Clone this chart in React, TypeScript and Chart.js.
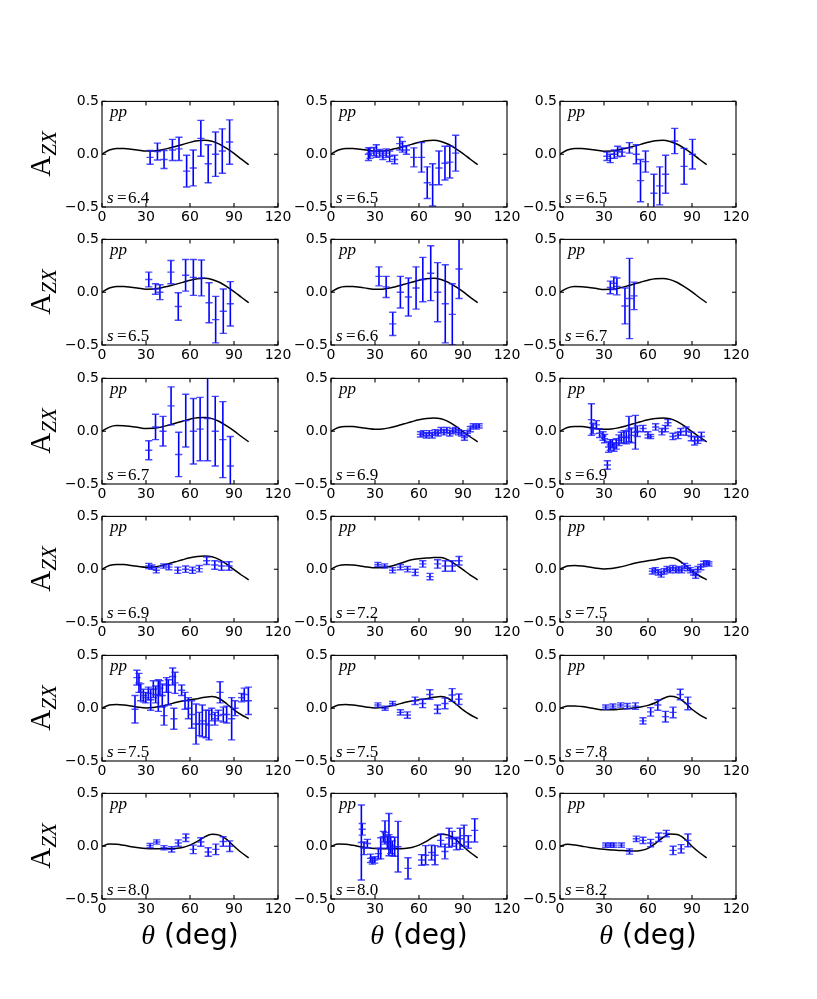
import { useEffect, useRef } from "react";
import { Chart, registerables } from "chart.js";

Chart.register(...registerables);

// theory curves, sampled every 5 deg
const thetaGrid = [0, 5, 10, 15, 20, 25, 30, 35, 40, 45, 50, 55, 60, 65, 70, 75, 80, 85, 90, 95, 100];
const curve64 = [0, 0.04, 0.055, 0.055, 0.048, 0.038, 0.03, 0.03, 0.04, 0.055, 0.073, 0.092, 0.112, 0.127, 0.132, 0.122, 0.095, 0.055, 0.008, -0.047, -0.1];
const curve65 = [0, 0.04, 0.055, 0.055, 0.047, 0.037, 0.029, 0.03, 0.04, 0.056, 0.074, 0.093, 0.113, 0.128, 0.132, 0.121, 0.094, 0.053, 0.006, -0.048, -0.1];
const curve66 = [0, 0.04, 0.054, 0.054, 0.046, 0.036, 0.028, 0.029, 0.039, 0.056, 0.075, 0.094, 0.114, 0.128, 0.131, 0.12, 0.093, 0.052, 0.005, -0.049, -0.1];
const curve67 = [0, 0.039, 0.053, 0.052, 0.044, 0.034, 0.026, 0.027, 0.038, 0.055, 0.075, 0.095, 0.114, 0.128, 0.13, 0.119, 0.092, 0.05, 0.003, -0.05, -0.1];
const curve69 = [0, 0.035, 0.045, 0.044, 0.036, 0.026, 0.019, 0.021, 0.033, 0.05, 0.07, 0.09, 0.108, 0.12, 0.125, 0.117, 0.09, 0.047, -0.004, -0.055, -0.1];
const curve72 = [0, 0.034, 0.043, 0.04, 0.031, 0.02, 0.013, 0.015, 0.026, 0.045, 0.068, 0.09, 0.1, 0.105, 0.11, 0.11, 0.087, 0.045, -0.005, -0.055, -0.1];
const curve75 = [0, 0.03, 0.035, 0.03, 0.02, 0.009, 0.003, 0.007, 0.018, 0.034, 0.053, 0.068, 0.08, 0.09, 0.103, 0.11, 0.092, 0.042, -0.015, -0.062, -0.1];
const curve78 = [0, 0.02, 0.022, 0.015, 0.005, -0.008, -0.015, -0.015, -0.011, -0.005, 0.003, 0.012, 0.027, 0.052, 0.09, 0.112, 0.1, 0.055, -0.01, -0.06, -0.1];
const curve80 = [0, 0.02, 0.018, 0.008, -0.005, -0.015, -0.022, -0.025, -0.025, -0.025, -0.022, -0.012, 0.01, 0.045, 0.088, 0.112, 0.105, 0.065, 0, -0.06, -0.11];
const curve82 = [0, 0.018, 0.012, 0, -0.012, -0.022, -0.03, -0.035, -0.04, -0.042, -0.045, -0.04, -0.02, 0.025, 0.08, 0.115, 0.11, 0.07, 0, -0.06, -0.11];

// measured points: [theta, A_ZX, error]
const r1c1 = [[32.8, -0.03, 0.065], [37.8, 0.025, 0.08], [42.3, -0.05, 0.085], [48, 0.04, 0.1], [52.5, 0.05, 0.11], [57.7, -0.16, 0.15], [62.2, -0.13, 0.17], [67.4, 0.15, 0.17], [72.4, -0.09, 0.18], [77.4, 0, 0.21], [82, 0.03, 0.21], [87, 0.115, 0.21]];
const r1c2 = [[25.5, 0, 0.06], [26.5, 0.01, 0.05], [29.3, 0.025, 0.04], [30.9, 0.03, 0.06], [33.1, 0.01, 0.035], [35.4, -0.01, 0.04], [37.7, 0.01, 0.04], [40, -0.02, 0.05], [43.4, -0.05, 0.04], [46.9, 0.1, 0.06], [48.7, 0.07, 0.05], [51.4, 0.04, 0.04], [56.5, -0.03, 0.09], [61.7, -0.03, 0.14], [65.6, -0.27, 0.15], [69.3, -0.29, 0.2], [73.6, -0.13, 0.16], [77.7, -0.085, 0.16], [81, -0.075, 0.15], [85, 0.01, 0.17]];
const r1c3 = [[32, -0.02, 0.04], [34.3, -0.04, 0.04], [37, 0, 0.04], [39.3, 0.025, 0.05], [42.3, 0.02, 0.04], [47.3, 0.06, 0.05], [52, 0, 0.09], [54.9, -0.25, 0.2], [58.3, -0.07, 0.1], [64, -0.37, 0.18], [68, -0.3, 0.18], [72, -0.19, 0.18], [78.2, 0.125, 0.12], [84.6, -0.115, 0.17], [90.3, 0, 0.14]];
const r2c1 = [[31.9, 0.12, 0.07], [36.5, 0.03, 0.05], [39.5, 0, 0.07], [47, 0.19, 0.11], [52, -0.135, 0.13], [57, 0.16, 0.15], [62.3, 0.14, 0.17], [67.8, 0.135, 0.17], [73, -0.1, 0.19], [77.5, -0.26, 0.22], [82.7, -0.18, 0.21], [87.5, -0.11, 0.21]];
const r2c2 = [[32.7, 0.15, 0.09], [37.6, 0.05, 0.1], [42.1, -0.3, 0.11], [47.3, 0, 0.15], [52.8, -0.045, 0.18], [58, 0.04, 0.2], [62.6, 0.12, 0.21], [68, 0.18, 0.26], [72.7, 0, 0.28], [77.9, -0.11, 0.37], [82.7, -0.21, 0.29], [87.3, 0.22, 0.28]];
const r2c3 = [[34.3, 0.045, 0.06], [36.7, 0.085, 0.06], [38.8, 0.055, 0.08], [44.3, -0.13, 0.17], [47.4, -0.06, 0.38], [50.5, -0.035, 0.13]];
const r3c1 = [[31.9, -0.18, 0.09], [36.5, 0.04, 0.12], [41.6, 0, 0.14], [47.1, 0.24, 0.18], [52.3, -0.22, 0.21], [57.1, 0.1, 0.25], [62.3, 0, 0.31], [66.9, 0.02, 0.3], [72, 0.12, 0.4], [77.2, 0, 0.33], [82.4, -0.08, 0.36], [87.5, -0.33, 0.28]];
const r3c2 = [[61, -0.03, 0.025], [63, -0.02, 0.025], [65, -0.04, 0.025], [67, -0.02, 0.025], [69, -0.04, 0.025], [71, -0.01, 0.025], [73, -0.02, 0.025], [75, 0.01, 0.025], [77, -0.01, 0.025], [79, 0.01, 0.025], [81, -0.02, 0.025], [83, 0, 0.025], [85, 0.01, 0.025], [87, -0.01, 0.025], [89, -0.02, 0.025], [91, -0.06, 0.025], [93, -0.02, 0.025], [95, 0.02, 0.025], [97, 0.05, 0.02], [99, 0.04, 0.02], [101, 0.05, 0.02]];
const r3c3 = [[21.4, 0.11, 0.15], [22.5, 0.025, 0.05], [24.8, 0.06, 0.04], [27, -0.02, 0.04], [29.3, -0.045, 0.04], [30.4, -0.07, 0.04], [32.3, -0.32, 0.04], [33.2, -0.15, 0.05], [34.3, -0.13, 0.05], [35.7, -0.12, 0.04], [36.8, -0.15, 0.04], [38.4, -0.12, 0.05], [40.2, -0.085, 0.05], [41.8, -0.06, 0.05], [43.6, -0.055, 0.06], [45.2, -0.06, 0.06], [47, 0.02, 0.12], [48.6, -0.04, 0.07], [51.4, -0.01, 0.16], [52.7, 0, 0.05], [56.6, 0.025, 0.03], [60, -0.035, 0.03], [61.8, -0.05, 0.02], [65.2, 0.04, 0.03], [69.5, -0.005, 0.03], [71.8, 0.025, 0.03], [73.6, 0.08, 0.03], [77, -0.05, 0.03], [80.5, -0.04, 0.03], [82.3, -0.005, 0.03], [86, 0, 0.04], [89.5, -0.05, 0.04], [91.8, -0.09, 0.04], [94, -0.085, 0.03], [96.4, -0.05, 0.04]];
const r4c1 = [[31.9, 0.03, 0.025], [34, 0.02, 0.02], [37, -0.01, 0.025], [42, 0.03, 0.02], [45.6, 0.02, 0.025], [51.7, -0.01, 0.03], [57, 0, 0.03], [61.7, -0.01, 0.03], [66.3, 0.005, 0.03], [71.4, 0.08, 0.035], [76.9, 0.04, 0.04], [81.5, 0.03, 0.04], [86.6, 0.03, 0.04]];
const r4c2 = [[32, 0.045, 0.02], [36.6, 0.03, 0.02], [42, -0.01, 0.025], [47.3, 0.02, 0.025], [52.2, 0, 0.025], [57.4, -0.03, 0.03], [62.6, 0.05, 0.03], [67.5, -0.07, 0.03], [72.7, 0.05, 0.04], [77.9, 0.03, 0.05], [82.7, 0.03, 0.05], [87.3, 0.08, 0.04]];
const r4c3 = [[63, -0.02, 0.025], [65, -0.01, 0.025], [67, -0.03, 0.025], [69, -0.05, 0.025], [71, -0.02, 0.025], [73, 0, 0.025], [75, -0.01, 0.025], [77, 0.01, 0.025], [79, -0.01, 0.025], [81, 0, 0.025], [83, -0.01, 0.025], [85, 0.03, 0.025], [87, 0.01, 0.025], [89, -0.01, 0.025], [91, -0.03, 0.025], [92.5, -0.06, 0.025], [94, 0, 0.025], [96, 0.02, 0.025], [98, 0.05, 0.025], [100, 0.06, 0.02], [101.5, 0.05, 0.02]];
const r5c1 = [[22.5, -0.01, 0.13], [23.8, 0.29, 0.07], [25.2, 0.24, 0.09], [26.4, 0.15, 0.08], [28.2, 0.12, 0.06], [29.8, 0.1, 0.05], [31.6, 0.14, 0.06], [33.2, 0.08, 0.1], [35, 0.18, 0.08], [36.6, 0.13, 0.08], [38.4, 0.12, 0.15], [39.5, 0.19, 0.07], [41.1, 0.12, 0.11], [42.3, -0.07, 0.09], [44, 0.22, 0.07], [45.2, 0.15, 0.12], [48.2, 0.3, 0.08], [49.8, 0.24, 0.1], [49, -0.1, 0.1], [54.3, 0.17, 0.05], [56.6, 0.07, 0.08], [58.9, 0, 0.1], [61.2, -0.06, 0.13], [64.1, -0.15, 0.19], [66.4, -0.15, 0.11], [68.4, -0.12, 0.15], [70.9, -0.15, 0.13], [72.9, -0.16, 0.14], [74.8, -0.06, 0.06], [77, -0.1, 0.06], [79.3, -0.07, 0.05], [80.5, 0.15, 0.1], [82.7, -0.06, 0.07], [85, -0.06, 0.08], [88.4, -0.1, 0.2], [90.7, 0, 0.07], [95.2, 0.1, 0.04], [97, 0.13, 0.06], [99.8, 0.07, 0.13]];
const r5c2 = [[32, 0.03, 0.02], [36.9, 0, 0.02], [42, 0.045, 0.02], [47.3, -0.04, 0.025], [52.1, -0.065, 0.03], [57.3, 0.07, 0.035], [62.5, 0.045, 0.04], [67.4, 0.13, 0.045], [72.6, -0.01, 0.04], [77.7, 0.045, 0.05], [82.6, 0.125, 0.06], [87.2, 0.085, 0.05]];
const r5c3 = [[31.2, 0.01, 0.02], [36.1, 0.02, 0.02], [41.3, 0.03, 0.02], [45.9, 0.02, 0.025], [51.4, 0.02, 0.03], [56.6, -0.12, 0.03], [61.8, -0.035, 0.04], [66.7, 0.03, 0.05], [71.9, -0.08, 0.05], [77.1, -0.04, 0.05], [82, 0.13, 0.05], [87.2, 0.045, 0.06]];
const r6c1 = [[32.8, 0.005, 0.02], [37.3, 0.04, 0.02], [42.3, -0.015, 0.02], [47.5, -0.03, 0.025], [52, 0.03, 0.03], [57.2, 0.08, 0.035], [62.2, -0.03, 0.04], [67.4, 0.04, 0.04], [72.4, -0.055, 0.04], [77.6, -0.03, 0.05], [82.6, 0.045, 0.045], [87.1, 0, 0.05]];
const r6c2 = [[20.7, 0.035, 0.355], [21.3, 0.16, 0.055], [22.5, -0.02, 0.06], [24.8, 0.025, 0.04], [27, -0.115, 0.04], [28.2, -0.14, 0.03], [29.8, -0.13, 0.03], [32.3, -0.07, 0.05], [33.9, -0.02, 0.1], [35.7, 0.09, 0.05], [36.8, 0.13, 0.11], [38.4, 0.04, 0.06], [39.5, 0.11, 0.2], [40.7, 0.01, 0.08], [41.8, -0.02, 0.07], [43.4, -0.005, 0.09], [45.7, -0.005, 0.24], [52.5, -0.21, 0.1], [61.8, -0.13, 0.05], [64.5, -0.085, 0.09], [68.6, -0.06, 0.07], [70.9, -0.085, 0.09], [74.8, 0.055, 0.06], [77.7, -0.05, 0.07], [80.5, 0.08, 0.09], [82.7, 0.07, 0.07], [85.5, 0.025, 0.06], [88, 0.07, 0.1], [90.7, 0.1, 0.1], [93.6, 0.04, 0.06], [98, 0.15, 0.11]];
const r6c3 = [[31.2, 0.01, 0.02], [34.3, 0.01, 0.02], [36.7, 0.01, 0.02], [41.9, 0.01, 0.02], [47.4, -0.05, 0.025], [52, 0.07, 0.025], [56.6, 0.055, 0.03], [61.8, 0.03, 0.035], [67.3, 0.085, 0.04], [72.5, 0.12, 0.03], [77.1, -0.04, 0.04], [82.6, -0.025, 0.04], [87.2, 0.055, 0.06]];

const sLabels = ["6.4", "6.5", "6.5", "6.5", "6.6", "6.7", "6.7", "6.9", "6.9", "6.9", "7.2", "7.5", "7.5", "7.5", "7.8", "8.0", "8.0", "8.2"];
const panelCurves = [curve64, curve65, curve65, curve65, curve66, curve67, curve67, curve69, curve69, curve69, curve72, curve75, curve75, curve75, curve78, curve80, curve80, curve82];
const panelPoints = [r1c1, r1c2, r1c3, r2c1, r2c2, r2c3, r3c1, r3c2, r3c3, r4c1, r4c2, r4c3, r5c1, r5c2, r5c3, r6c1, r6c2, r6c3];

const xTicks = [0, 30, 60, 90, 120];
const yTicks = [-0.5, 0, 0.5];

// figure layout (px)
const AX_W = 176;
const AX_H = 107;
const COL_X = [102, 331, 560];
const ROW_Y = [100, 238, 377, 515, 654, 792];
const Y_AXIS_W = 50;
const PAD_T = 10;
const PAD_R = 24;
const X_AXIS_H = 22;
const CANVAS_W = Y_AXIS_W + AX_W + PAD_R;
const CANVAS_H = PAD_T + AX_H + X_AXIS_H;

const BLUE = "#0000ff";
const SERIF = "'Liberation Serif', 'DejaVu Serif', serif";
const SANS = "'DejaVu Sans', sans-serif";

const fmtY = (v: number) => (v < 0 ? "\u2212" : "") + Math.abs(v).toFixed(1);

const panelDecor = {
  id: "panelDecor",
  afterDatasetsDraw(chart: any, _args: any, opts: any) {
    const { ctx, chartArea: a, scales } = chart;
    const xs = scales.x;
    const ys = scales.y;
    const w = a.right - a.left;
    const h = a.bottom - a.top;

    // error bars
    const pts = chart.data.datasets[1].data;
    ctx.save();
    ctx.beginPath();
    ctx.rect(a.left, a.top, w, h);
    ctx.clip();
    for (const p of pts) {
      const px = xs.getPixelForValue(p.x);
      const pTop = ys.getPixelForValue(p.y + p.e);
      const pBot = ys.getPixelForValue(p.y - p.e);
      const pMid = ys.getPixelForValue(p.y);
      ctx.strokeStyle = BLUE;
      ctx.lineWidth = 1.6;
      ctx.beginPath();
      ctx.moveTo(px, pTop);
      ctx.lineTo(px, pBot);
      ctx.stroke();
      ctx.strokeStyle = "rgba(30,30,255,0.8)";
      ctx.lineWidth = 1.4;
      ctx.beginPath();
      for (const py of [pTop, pBot, pMid]) {
        ctx.moveTo(px - 3.6, py);
        ctx.lineTo(px + 3.6, py);
      }
      ctx.stroke();
    }
    ctx.restore();

    // frame + inward ticks on all sides
    ctx.save();
    ctx.strokeStyle = "#000";
    ctx.lineWidth = 1.1;
    ctx.strokeRect(a.left, a.top, w, h);
    ctx.beginPath();
    for (const v of xTicks) {
      const px = xs.getPixelForValue(v);
      ctx.moveTo(px, a.bottom);
      ctx.lineTo(px, a.bottom - 4);
      ctx.moveTo(px, a.top);
      ctx.lineTo(px, a.top + 4);
    }
    for (const v of yTicks) {
      const py = ys.getPixelForValue(v);
      ctx.moveTo(a.left, py);
      ctx.lineTo(a.left + 4, py);
      ctx.moveTo(a.right, py);
      ctx.lineTo(a.right - 4, py);
    }
    ctx.stroke();

    // annotations
    ctx.fillStyle = "#000";
    ctx.textBaseline = "alphabetic";
    ctx.textAlign = "left";
    ctx.font = `italic 17px ${SERIF}`;
    ctx.fillText("pp", a.left + 8, a.top + 16);
    const by = a.bottom - 3.7;
    ctx.fillText("s", a.left + 5, by);
    ctx.font = `17px ${SERIF}`;
    ctx.fillText("=", a.left + 15, by);
    ctx.fillText(opts.s, a.left + 26, by);
    ctx.restore();
  },
};

interface PanelProps {
  s: string;
  curve: number[];
  points: number[][];
  left: number;
  top: number;
}

const Panel = ({ s, curve, points, left, top }: PanelProps) => {
  const canvasRef = useRef<HTMLCanvasElement | null>(null);

  useEffect(() => {
    if (!canvasRef.current) return;
    const chart = new Chart(canvasRef.current, {
      type: "line",
      data: {
        datasets: [
          {
            type: "line",
            data: thetaGrid.map((x, i) => ({ x, y: curve[i] })),
            borderColor: "#000",
            borderWidth: 1.5,
            pointRadius: 0,
            cubicInterpolationMode: "monotone",
            fill: false,
          },
          {
            type: "scatter",
            data: points.map(([x, y, e]) => ({ x, y, e })),
            pointRadius: 0,
            showLine: false,
          },
        ] as any,
      },
      options: {
        animation: false,
        responsive: false,
        maintainAspectRatio: false,
        events: [],
        layout: { padding: { left: 0, top: PAD_T, right: PAD_R, bottom: 0 }, autoPadding: false } as any,
        plugins: {
          legend: { display: false },
          tooltip: { enabled: false },
          panelDecor: { s },
        } as any,
        scales: {
          x: {
            type: "linear",
            min: 0,
            max: 120,
            afterBuildTicks: (sc: any) => {
              sc.ticks = xTicks.map((v) => ({ value: v }));
            },
            afterFit: (sc: any) => {
              sc.height = X_AXIS_H;
            },
            grid: { display: false, drawTicks: false },
            border: { display: false },
            ticks: {
              color: "#000",
              font: { family: SANS, size: 14 },
              padding: 2,
              maxRotation: 0,
              autoSkip: false,
              callback: (v: any) => String(v),
            },
          },
          y: {
            type: "linear",
            min: -0.5,
            max: 0.5,
            afterBuildTicks: (sc: any) => {
              sc.ticks = yTicks.map((v) => ({ value: v }));
            },
            afterFit: (sc: any) => {
              sc.width = Y_AXIS_W;
            },
            grid: { display: false, drawTicks: false },
            border: { display: false },
            ticks: {
              color: "#000",
              font: { family: SANS, size: 14 },
              padding: 3,
              autoSkip: false,
              callback: (v: any) => fmtY(Number(v)),
            },
          },
        },
      } as any,
      plugins: [panelDecor],
    });
    return () => chart.destroy();
  }, [s, curve, points]);

  return (
    <canvas
      ref={canvasRef}
      width={CANVAS_W}
      height={CANVAS_H}
      style={{
        position: "absolute",
        left: left - Y_AXIS_W,
        top: top - PAD_T,
        width: CANVAS_W,
        height: CANVAS_H,
      }}
    />
  );
};

export default function App() {
  return (
    <div
      style={{
        position: "absolute",
        left: 0,
        top: 0,
        width: 817,
        height: 999,
        background: "#fff",
        overflow: "hidden",
      }}
    >
      {sLabels.map((s, i) => (
        <Panel
          key={i}
          s={s}
          curve={panelCurves[i]}
          points={panelPoints[i]}
          left={COL_X[i % 3]}
          top={ROW_Y[Math.floor(i / 3)]}
        />
      ))}
      {ROW_Y.map((y, r) => (
        <div
          key={"yl" + r}
          style={{
            position: "absolute",
            left: 40,
            top: y + AX_H / 2,
            transform: "translate(-50%, -50%) rotate(-90deg)",
            whiteSpace: "nowrap",
            lineHeight: 1,
            color: "#000",
          }}
        >
          <span style={{ fontFamily: SERIF, fontSize: 29 }}>A</span>
          <span style={{ fontFamily: SERIF, fontStyle: "italic", fontSize: 21, position: "relative", top: 6 }}>ZX</span>
        </div>
      ))}
      {COL_X.map((x, c) => (
        <div
          key={"xl" + c}
          style={{
            position: "absolute",
            left: x + AX_W / 2,
            top: 921,
            transform: "translateX(-50%)",
            whiteSpace: "nowrap",
            lineHeight: 1,
            fontSize: 28,
            color: "#000",
          }}
        >
          <span style={{ fontFamily: SERIF, fontStyle: "italic" }}>θ</span>
          <span style={{ fontFamily: SANS }}> (deg)</span>
        </div>
      ))}
    </div>
  );
}
